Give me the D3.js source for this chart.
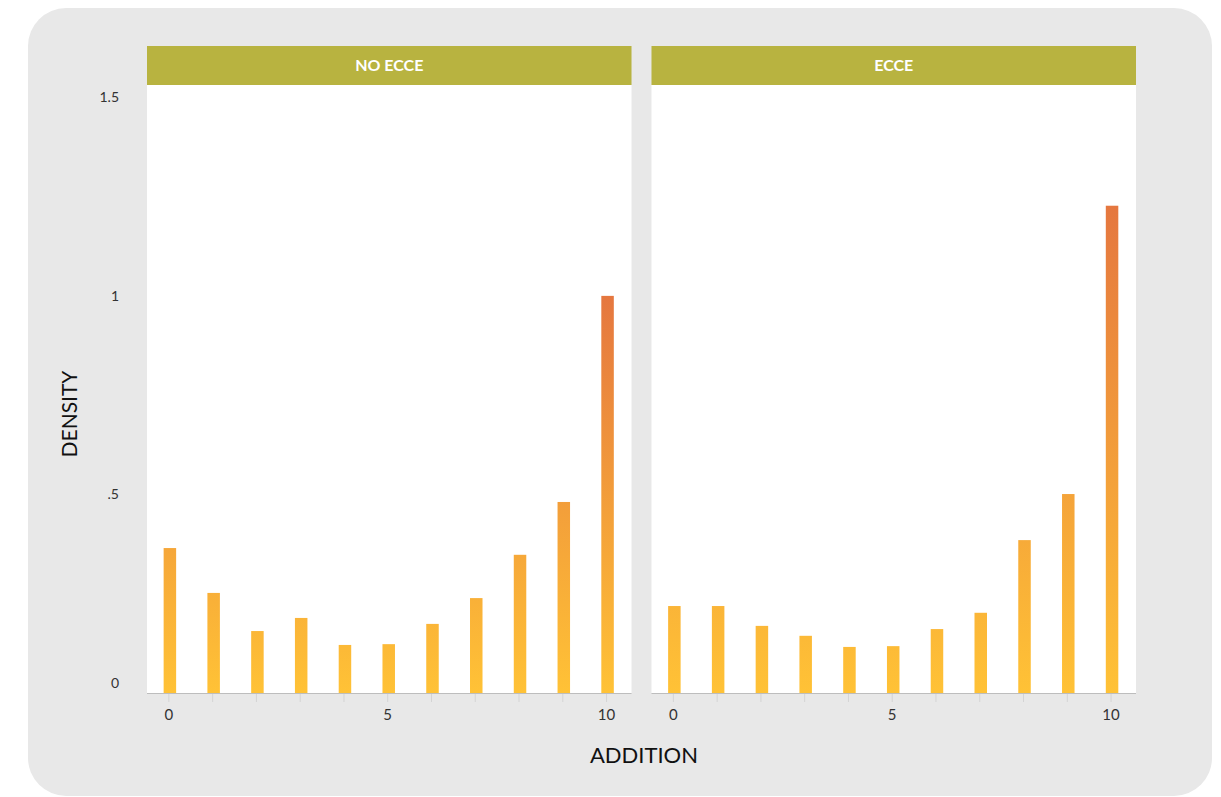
<!DOCTYPE html>
<html>
<head>
<meta charset="utf-8">
<script src="https://cdn.jsdelivr.net/npm/d3@7"></script>
<style>
  body { margin: 0; background: #fff; }
  text { font-family: Lato, "Open Sans", sans-serif; }
</style>
</head>
<body>
<div id="chart"></div>
<script>
// facets and bar heights (density per addition score)
const panels = ["NO ECCE", "ECCE"];
const additions = [0, 1, 2, 3, 4, 5, 6, 7, 8, 9, 10];
const densityNoEcce = [0.365, 0.252, 0.156, 0.189, 0.121, 0.123, 0.174, 0.239, 0.348, 0.481, 1.0];
const densityEcce = [0.219, 0.219, 0.169, 0.144, 0.116, 0.118, 0.161, 0.202, 0.385, 0.501, 1.227];
const yTicks = [0, 0.5, 1, 1.5];
const yTickLabels = ["0", ".5", "1", "1.5"];
const xTicks = [0, 5, 10];

const seriesByPanel = {"NO ECCE": densityNoEcce, "ECCE": densityEcce};

const W = 1221, H = 797;
const svg = d3.select("#chart").append("svg")
    .attr("width", W)
    .attr("height", H);

// grey card
svg.append("rect")
    .attr("x", 28).attr("y", 8)
    .attr("width", 1184).attr("height", 788)
    .attr("rx", 38)
    .attr("fill", "#e8e8e8");

const panelX = d3.scaleBand()
    .domain(panels)
    .range([147, 1136])
    .paddingInner(0.0396);

const stripTop = 46, plotTop = 85, plotBottom = 693;

const x = d3.scaleLinear().domain([-0.5, 10.57]).range([0, panelX.bandwidth()]);
const y = d3.scaleLinear().domain([0, 1.531]).range([plotBottom, plotTop]);

const defs = svg.append("defs");

panels.forEach((p, i) => {
    const vals = seriesByPanel[p];
    const g = svg.append("g").attr("transform", `translate(${panelX(p)},0)`);

    // gradient from yellow at 0 to orange at the panel's max
    const gid = "grad" + i;
    const grad = defs.append("linearGradient")
        .attr("id", gid)
        .attr("gradientUnits", "userSpaceOnUse")
        .attr("x1", 0).attr("x2", 0)
        .attr("y1", y(0)).attr("y2", y(d3.max(vals)));
    grad.append("stop").attr("offset", "0%").attr("stop-color", "#ffc236");
    grad.append("stop").attr("offset", "100%").attr("stop-color", "#e5773f");

    g.append("rect")
        .attr("x", 0).attr("y", plotTop)
        .attr("width", panelX.bandwidth()).attr("height", plotBottom - plotTop)
        .attr("fill", "#fff");

    // strip
    g.append("rect")
        .attr("x", 0).attr("y", stripTop)
        .attr("width", panelX.bandwidth()).attr("height", plotTop - stripTop)
        .attr("fill", "#b8b340");
    g.append("text")
        .attr("x", panelX.bandwidth() / 2).attr("y", (stripTop + plotTop) / 2)
        .attr("dy", "0.36em")
        .attr("text-anchor", "middle")
        .attr("fill", "#fff")
        .style("font-size", "16px")
        .style("font-weight", "bold")
        .text(p);

    // bars
    const bw = 12.5;
    g.selectAll("rect.bar").data(additions)
        .enter().append("rect")
        .attr("class", "bar")
        .attr("x", d => x(d) - bw / 2 + 1)
        .attr("y", (d, j) => y(vals[j]))
        .attr("width", bw)
        .attr("height", (d, j) => y(0) - y(vals[j]))
        .attr("fill", `url(#${gid})`);

    // x axis
    const xAxis = g.append("g").attr("transform", `translate(0,${plotBottom})`);
    xAxis.append("line")
        .attr("x1", 0).attr("x2", panelX.bandwidth())
        .attr("y1", 0.5).attr("y2", 0.5)
        .attr("stroke", "#bdbdbd");
    xAxis.selectAll("line.tick").data(additions)
        .enter().append("line")
        .attr("class", "tick")
        .attr("x1", d => x(d)).attr("x2", d => x(d))
        .attr("y1", 1).attr("y2", 9)
        .attr("stroke", "#d4d4d4");
    xAxis.selectAll("text").data(xTicks)
        .enter().append("text")
        .attr("x", d => x(d)).attr("y", 22)
        .attr("dy", "0.36em")
        .attr("text-anchor", "middle")
        .attr("fill", "#333")
        .style("font-size", "15px")
        .text(d => d);
});

// y tick labels
svg.append("g").selectAll("text").data(yTicks)
    .enter().append("text")
    .attr("x", 119)
    .attr("y", d => y(d) - (d === 0 ? 10 : 0))
    .attr("dy", "0.36em")
    .attr("text-anchor", "end")
    .attr("fill", "#333")
    .style("font-size", "14px")
    .text((d, i) => yTickLabels[i]);

// axis titles
svg.append("text")
    .attr("transform", `translate(77,414) rotate(-90)`)
    .attr("text-anchor", "middle")
    .attr("fill", "#111")
    .style("font-size", "21px")
    .text("DENSITY");

svg.append("text")
    .attr("x", 644).attr("y", 763)
    .attr("text-anchor", "middle")
    .attr("fill", "#111")
    .style("font-size", "22px")
    .text("ADDITION");
</script>
</body>
</html>
